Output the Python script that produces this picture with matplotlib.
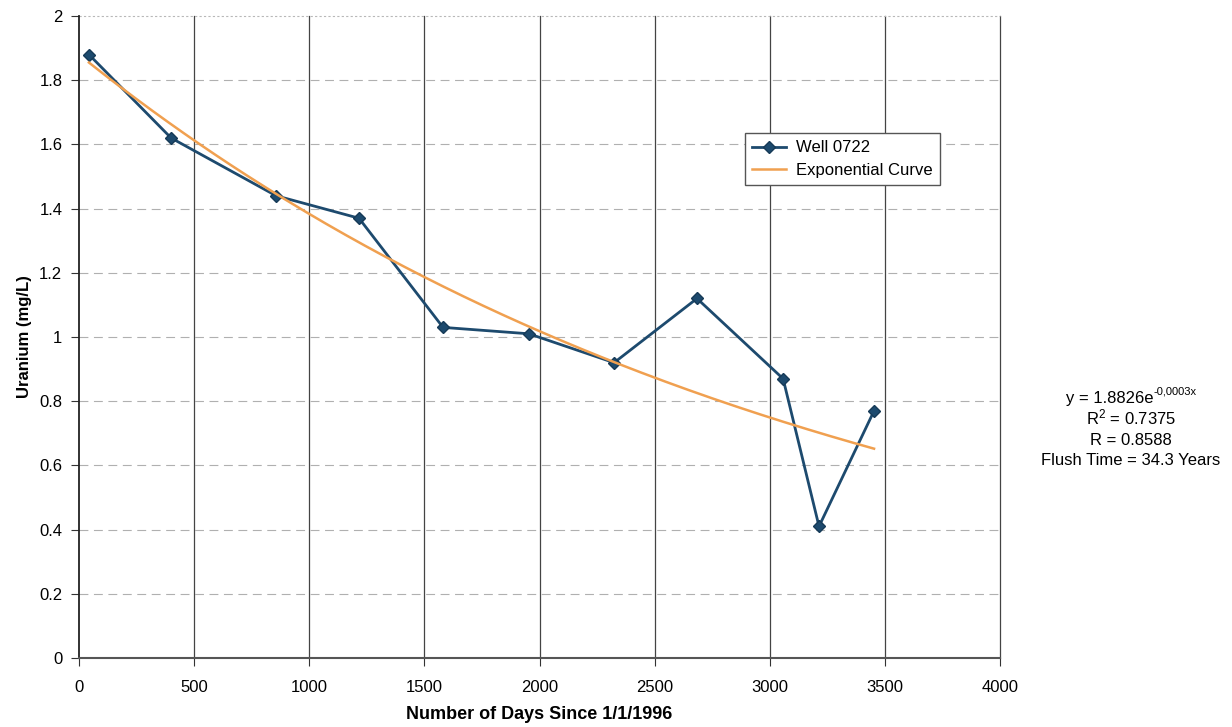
import numpy as np
import matplotlib
matplotlib.use("Agg")
import matplotlib.pyplot as plt
from matplotlib import font_manager

# ---- data ----
days = [43, 400, 856, 1216, 1581, 1954, 2324, 2684, 3058, 3214, 3453]
uranium = [1.88, 1.62, 1.44, 1.37, 1.03, 1.01, 0.92, 1.12, 0.87, 0.41, 0.77]
x_ticks = [0, 500, 1000, 1500, 2000, 2500, 3000, 3500, 4000]
y_ticks = [0, 0.2, 0.4, 0.6, 0.8, 1.0, 1.2, 1.4, 1.6, 1.8, 2.0]
y_tick_labels = ["0", "0.2", "0.4", "0.6", "0.8", "1", "1.2", "1.4", "1.6", "1.8", "2"]
series_label = "Well 0722"
trend_label = "Exponential Curve"
eq_base = "y = 1.8826e"
eq_exp = "-0,0003x"
fit_text = ["R$^2$ = 0.7375", "R = 0.8588", "Flush Time = 34.3 Years"]

names = {f.name for f in font_manager.fontManager.ttflist}
base = "Liberation Sans" if "Liberation Sans" in names else "DejaVu Sans"
narrow = "Liberation Sans Narrow" if "Liberation Sans Narrow" in names else base
plt.rcParams["font.family"] = [base, "DejaVu Sans"]
plt.rcParams["mathtext.fontset"] = "custom"
plt.rcParams["mathtext.rm"] = base
plt.rcParams["mathtext.it"] = base
plt.rcParams["axes.unicode_minus"] = False

fig = plt.figure(figsize=(12.32, 7.27), dpi=100)
ax = fig.add_axes([79/1232, 69/727, 921/1232, 642/727])

# exponential trendline fitted to the data (least squares on ln y, as Excel does)
k, lnA = np.polyfit(days, np.log(uranium), 1)
xs = np.linspace(days[0], days[-1], 200)
trend = np.exp(lnA) * np.exp(k * xs)

ax.plot(days, uranium, color="#1d4a6e", lw=2.0, marker="D", ms=6.5,
        markerfacecolor="#1d4a6e", markeredgecolor="#163a57", label=series_label, zorder=3)
ax.plot(xs, trend, color="#f0a050", lw=1.8, label=trend_label, zorder=4)

ax.set_xlim(0, 4000)
ax.set_ylim(0, 2)
ax.set_xticks(x_ticks)
ax.set_xticklabels([str(v) for v in x_ticks], fontsize=12, family=narrow)
ax.set_yticks(y_ticks)
ax.set_yticklabels(y_tick_labels, fontsize=12)

# grid: vertical solid dark, horizontal light dashed
for xv in x_ticks[1:]:
    ax.axvline(xv, color="#444444", lw=0.9, zorder=1, clip_on=False)
for yv in y_ticks[1:-1]:
    ax.axhline(yv, color="#b0b0b0", lw=0.8, ls=(0, (8, 5)), zorder=1)
ax.axhline(y_ticks[-1], color="#b8b8b8", lw=0.8, ls=(0, (2, 2)), zorder=1, clip_on=False)

for s in ["top", "right"]:
    ax.spines[s].set_visible(False)
ax.spines["left"].set_color("#222222")
ax.spines["left"].set_linewidth(1.3)
ax.spines["bottom"].set_color("#555555")
ax.spines["bottom"].set_linewidth(1.5)
ax.tick_params(axis="both", direction="out", length=6, color="#333333", pad=6)
ax.tick_params(axis="x", pad=10)

ax.set_xlabel("Number of Days Since 1/1/1996", fontsize=13, fontweight="bold", family=narrow, labelpad=8)
ax.set_ylabel("Uranium (mg/L)", fontsize=12, fontweight="bold", labelpad=5)

leg = ax.legend(loc="upper left", bbox_to_anchor=(0.723, 0.818), borderaxespad=0, fontsize=12,
                frameon=True, fancybox=False, edgecolor="#555555", framealpha=1,
                handlelength=2.0, handletextpad=0.6, borderpad=0.45, labelspacing=0.45)
leg.get_frame().set_linewidth(1.0)

# fit annotation (baseline-aligned lines)
fig.text(1154/1232, 1 - 403/727, eq_base, ha="right", va="baseline", fontsize=12)
fig.text(1154/1232, 1 - 395/727, eq_exp, ha="left", va="baseline", fontsize=8)
y0 = 424
for i, t in enumerate(fit_text):
    fig.text(1131/1232, 1 - (y0 + i * 20.7) / 727, t, ha="center", va="baseline", fontsize=12)

fig.savefig("out.png", dpi=100)
